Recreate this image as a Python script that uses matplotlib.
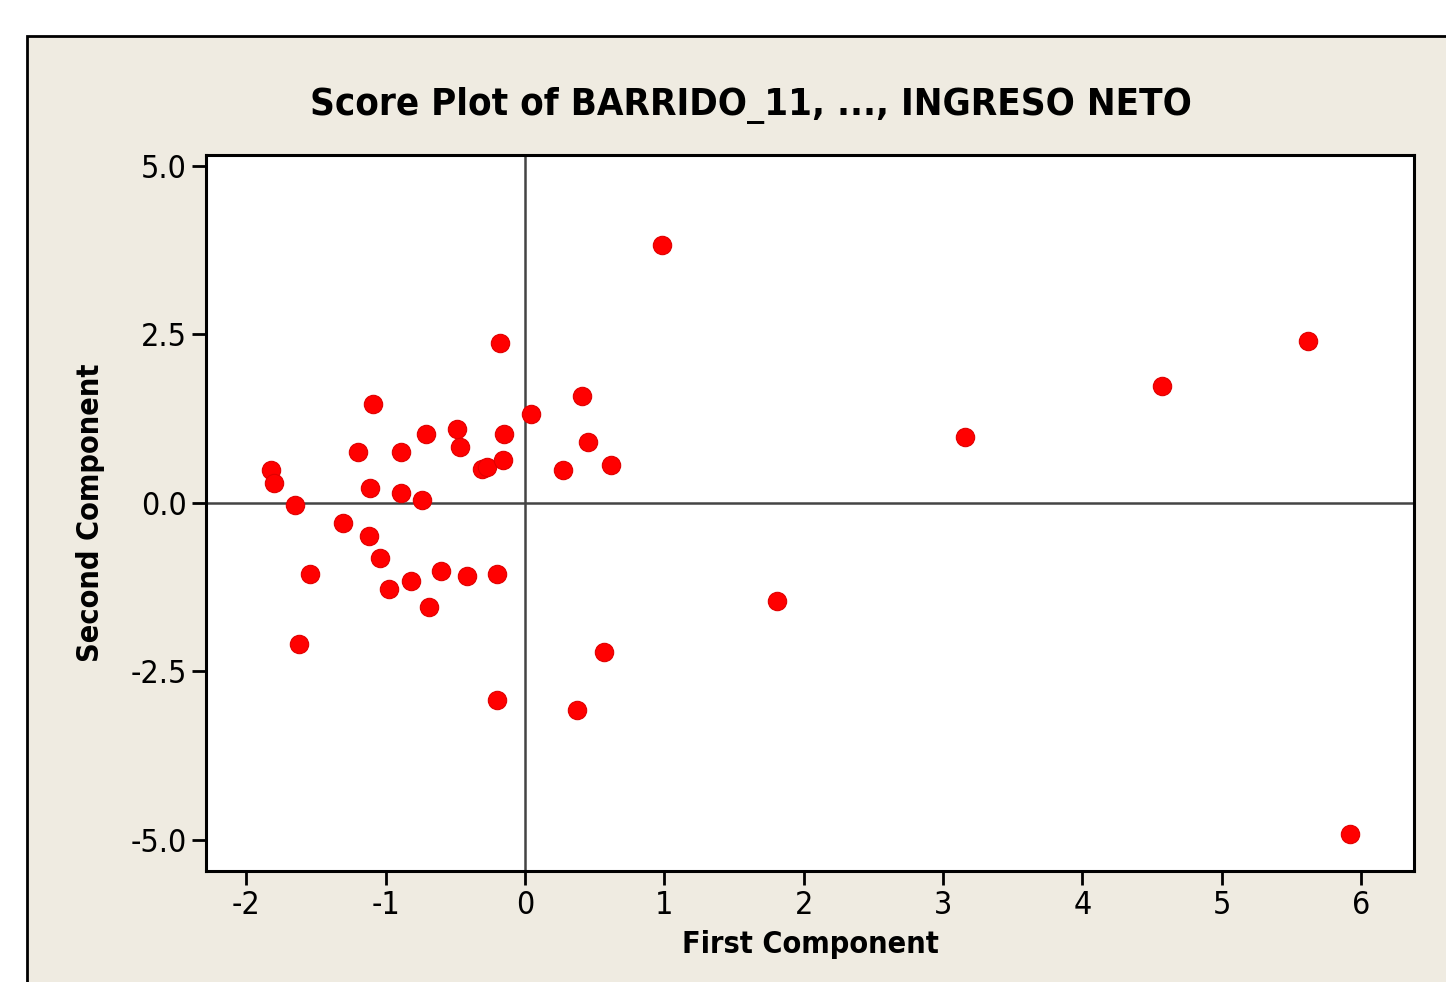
import matplotlib
matplotlib.use("Agg")
from matplotlib import pyplot as plt
from matplotlib.patches import Rectangle

# first / second principal component scores
first_comp = [-1.82, -1.80, -1.65, -1.54, -1.62, -1.31, -1.20, -1.12, -1.11, -1.09,
              -1.04, -0.98, -0.89, -0.89, -0.82, -0.74, -0.71, -0.69, -0.60, -0.49,
              -0.47, -0.42, -0.31, -0.27, -0.20, -0.20, -0.18, -0.16, -0.15, 0.04,
              0.27, 0.37, 0.41, 0.45, 0.57, 0.62, 0.98, 1.81, 3.16, 4.57, 5.62, 5.92]
second_comp = [0.49, 0.30, -0.03, -1.05, -2.09, -0.30, 0.76, -0.49, 0.22, 1.47,
               -0.82, -1.28, 0.76, 0.15, -1.16, 0.04, 1.02, -1.54, -1.01, 1.10,
               0.83, -1.08, 0.50, 0.53, -1.05, -2.92, 2.37, 0.64, 1.02, 1.32,
               0.49, -3.07, 1.59, 0.91, -2.21, 0.56, 3.83, -1.45, 0.98, 1.74, 2.40, -4.91]

xticks = [-2, -1, 0, 1, 2, 3, 4, 5, 6]
yticks = [-5.0, -2.5, 0.0, 2.5, 5.0]

plt.rcParams["font.family"] = "DejaVu Sans"
plt.rcParams["font.stretch"] = "condensed"

fig = plt.figure(figsize=(14.46, 9.82), dpi=100)
fig.patch.set_facecolor("white")
# beige panel with black frame, cut off at right / bottom like the screenshot
fig.patches.append(Rectangle((27 / 1446, -0.1), 1.2, 1 - 36 / 982 + 0.1,
                             transform=fig.transFigure, facecolor="#efebe1",
                             edgecolor="black", linewidth=2, zorder=-5))

ax = fig.add_axes([206 / 1446, 1 - 871 / 982, (1414 - 206) / 1446, (871 - 155) / 982])
ax.set_zorder(2)
ax.set_facecolor("white")
ax.axvline(0, color="#444444", linewidth=1.8, zorder=1)
ax.axhline(0, color="#444444", linewidth=1.8, zorder=1)
ax.scatter(first_comp, second_comp, s=175, color="#ff0000", edgecolor="#e00000",
           linewidth=0.8, zorder=3)

ax.set_xlim(-2.29, 6.38)
ax.set_ylim(-5.46, 5.16)
ax.set_xticks(xticks)
ax.set_xticklabels([str(t) for t in xticks])
ax.set_yticks(yticks)
ax.set_yticklabels(["%.1f" % t for t in yticks])
ax.tick_params(axis="both", length=10, width=2, labelsize=23, pad=4, color="black")
for sp in ax.spines.values():
    sp.set_linewidth(2.2)

ax.set_xlabel("First Component", fontsize=22, fontweight="bold", labelpad=6)
ax.set_ylabel("Second Component", fontsize=22, fontweight="bold", labelpad=18)
fig.text(751 / 1446, 1 - 106 / 982, "Score Plot of BARRIDO_11, ..., INGRESO NETO",
         ha="center", va="center", fontsize=27.5, fontweight="bold", zorder=3)

plt.savefig("out.png", dpi=100, facecolor=fig.get_facecolor())
